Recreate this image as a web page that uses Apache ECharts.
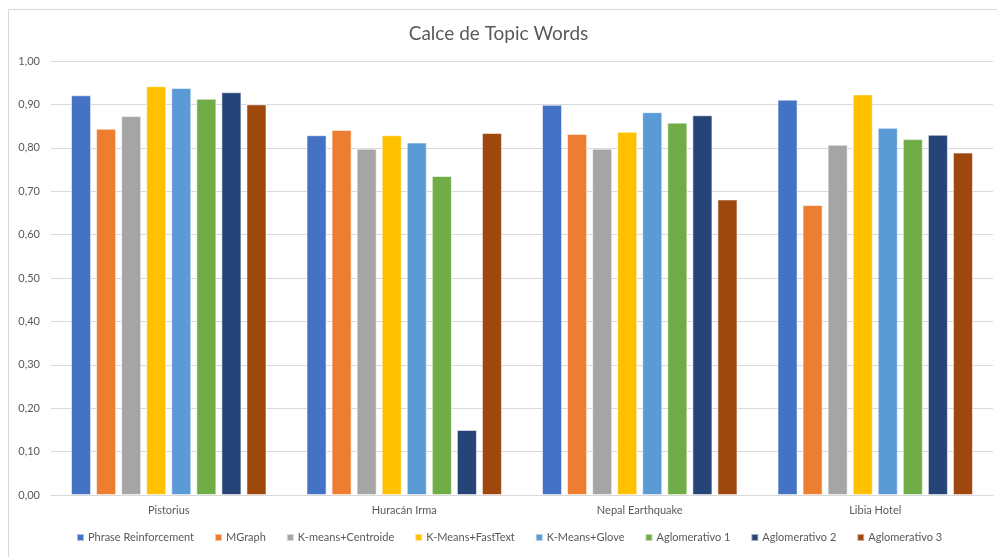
<!DOCTYPE html>
<html>
<head>
<meta charset="utf-8">
<script src="https://cdn.jsdelivr.net/npm/echarts@6/dist/echarts.min.js"></script>
<style>
  html, body { margin: 0; padding: 0; background: #fff; }
  #chart { width: 997px; height: 557px; }
</style>
</head>
<body>
<div id="chart"></div>
<script>
// Datasets (categories) and the topic-word scores of each method
const categories = ['Pistorius', 'Huracán Irma', 'Nepal Earthquake', 'Libia Hotel'];

const seriesNames = [
  'Phrase Reinforcement', 'MGraph', 'K-means+Centroide', 'K-Means+FastText',
  'K-Means+Glove', 'Aglomerativo 1', 'Aglomerativo 2', 'Aglomerativo 3'
];

const phraseReinforcement = [0.921, 0.829, 0.899, 0.911];
const mGraph              = [0.844, 0.841, 0.832, 0.668];
const kmeansCentroide     = [0.873, 0.798, 0.798, 0.807];
const kmeansFastText      = [0.942, 0.829, 0.837, 0.923];
const kmeansGlove         = [0.938, 0.812, 0.882, 0.846];
const aglomerativo1       = [0.913, 0.735, 0.858, 0.820];
const aglomerativo2       = [0.928, 0.150, 0.875, 0.830];
const aglomerativo3       = [0.900, 0.834, 0.681, 0.789];

const seriesValues = [
  phraseReinforcement, mGraph, kmeansCentroide, kmeansFastText,
  kmeansGlove, aglomerativo1, aglomerativo2, aglomerativo3
];

const palette = ['#4472C4', '#ED7D31', '#A5A5A5', '#FFC000', '#5B9BD5', '#70AD47', '#264478', '#9E480E'];

const FONT = 'Lato, "Open Sans", sans-serif';
const TEXT = '#595959';

const chart = echarts.init(document.getElementById('chart'), null, { renderer: 'canvas' });

chart.setOption({
  animation: false,
  color: palette,
  textStyle: { fontFamily: FONT },
  title: {
    text: 'Calce de Topic Words',
    left: 'center',
    top: 19,
    textStyle: { fontFamily: FONT, fontSize: 19, fontWeight: 'normal', color: TEXT }
  },
  graphic: [{
    type: 'rect',
    shape: { x: 8.5, y: 9.5, width: 1000, height: 600 },
    style: { fill: 'none', stroke: '#D9D9D9', lineWidth: 1 },
    silent: true
  }],
  legend: {
    bottom: 9,
    left: 71,
    itemWidth: 7,
    itemHeight: 7,
    itemGap: 20,
    icon: 'rect',
    textStyle: { fontFamily: FONT, fontSize: 11, color: TEXT, padding: [0, 0, 0, -1] },
    data: seriesNames
  },
  grid: { left: 51, right: 4, top: 61, bottom: 62, containLabel: false },
  xAxis: {
    type: 'category',
    data: categories,
    axisLine: { show: true, lineStyle: { color: '#D9D9D9' } },
    axisTick: { show: false },
    axisLabel: { fontFamily: FONT, fontSize: 11, color: TEXT, margin: 10 }
  },
  yAxis: {
    type: 'value',
    min: 0,
    max: 1,
    interval: 0.1,
    axisLine: { show: false },
    axisTick: { show: false },
    splitLine: { lineStyle: { color: '#D9D9D9', width: 1 } },
    axisLabel: {
      fontFamily: FONT, fontSize: 11, color: TEXT, margin: 11,
      formatter: v => v.toFixed(2).replace('.', ',')
    }
  },
  series: seriesNames.map((name, i) => ({
    name,
    type: 'bar',
    data: seriesValues[i],
    barGap: '25%',
    barCategoryGap: '17%',
    itemStyle: { borderColor: 'rgba(255,255,255,0.55)', borderWidth: 1 }
  }))
});
</script>
</body>
</html>
